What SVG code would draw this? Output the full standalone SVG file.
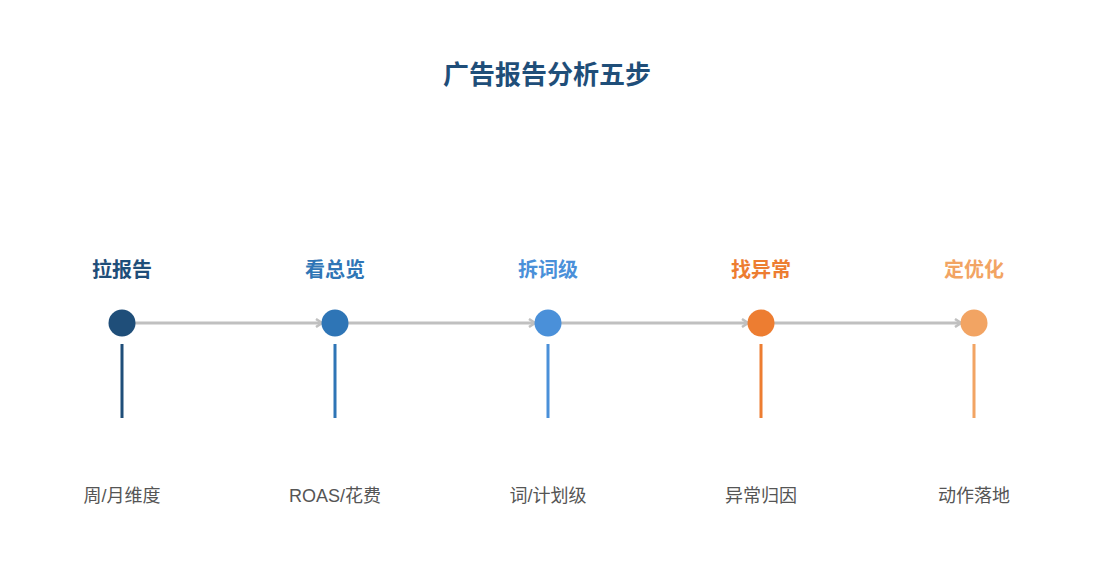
<svg xmlns="http://www.w3.org/2000/svg" width="1095" height="585" viewBox="0 0 1095 585">
<style>
text{font-family:"Liberation Sans","Noto Sans CJK SC",sans-serif;text-anchor:middle}
.t{font-size:26px;font-weight:bold;fill:#1f4e79}
.h{font-size:20px;font-weight:bold}
.d{font-size:18px;fill:#555}
.c{stroke:#c0c0c0;stroke-width:3;fill:none}
</style>
<defs><marker id="a" markerWidth="10" markerHeight="10" refX="8" refY="5" orient="auto" markerUnits="userSpaceOnUse"><path d="M2,1 L8,5 L2,9" fill="none" stroke="#c0c0c0" stroke-width="2.5"/></marker></defs>
<rect width="1095" height="585" fill="#fff"/>
<text class="t" x="547" y="84">广告报告分析五步</text>
<g id="connectors">
<line class="c" x1="135" y1="323" x2="322" y2="323" marker-end="url(#a)"/>
<line class="c" x1="348" y1="323" x2="535" y2="323" marker-end="url(#a)"/>
<line class="c" x1="561" y1="323" x2="748" y2="323" marker-end="url(#a)"/>
<line class="c" x1="774" y1="323" x2="961" y2="323" marker-end="url(#a)"/>
</g>
<g id="n1"><text class="h" x="122" y="277" fill="#1f4e79">拉报告</text><circle cx="122" cy="323" r="13.5" fill="#1f4e79"/><rect x="120.5" y="344" width="3" height="74" fill="#1f4e79"/><text class="d" x="122" y="502">周/月维度</text></g>
<g id="n2"><text class="h" x="335" y="277" fill="#2e75b6">看总览</text><circle cx="335" cy="323" r="13.5" fill="#2e75b6"/><rect x="333.5" y="344" width="3" height="74" fill="#2e75b6"/><text class="d" x="335" y="502">ROAS/花费</text></g>
<g id="n3"><text class="h" x="548" y="277" fill="#4a90d9">拆词级</text><circle cx="548" cy="323" r="13.5" fill="#4a90d9"/><rect x="546.5" y="344" width="3" height="74" fill="#4a90d9"/><text class="d" x="548" y="502">词/计划级</text></g>
<g id="n4"><text class="h" x="761" y="277" fill="#ed7d31">找异常</text><circle cx="761" cy="323" r="13.5" fill="#ed7d31"/><rect x="759.5" y="344" width="3" height="74" fill="#ed7d31"/><text class="d" x="761" y="502">异常归因</text></g>
<g id="n5"><text class="h" x="974" y="277" fill="#f2a463">定优化</text><circle cx="974" cy="323" r="13.5" fill="#f2a463"/><rect x="972.5" y="344" width="3" height="74" fill="#f2a463"/><text class="d" x="974" y="502">动作落地</text></g>
</svg>
